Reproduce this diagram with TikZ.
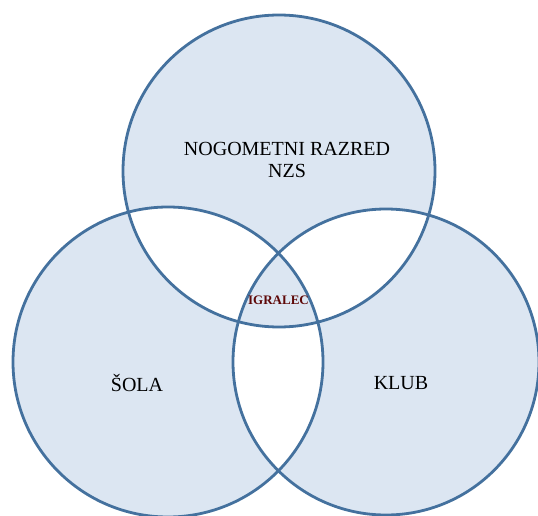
\documentclass[tikz,border=0pt]{standalone}
\usepackage{fontspec}
\setmainfont{Liberation Serif}
\definecolor{vennfill}{HTML}{DCE6F2}
\definecolor{vennline}{HTML}{44719E}
\definecolor{igred}{HTML}{5E0808}
\tikzset{
  vennstroke/.style={draw=vennline, line width=2.8pt},
  biglabel/.style={font=\fontsize{20}{22}\selectfont, text=black, align=center, inner sep=0pt},
  centerlabel/.style={font=\fontsize{13}{15}\selectfont\bfseries, text=igred, inner sep=0pt}
}
\begin{document}
\begin{tikzpicture}[x=1pt,y=-1pt]
  \useasboundingbox (0,0) rectangle (538,516);
  \clip (0,0) rectangle (538,516);
  \coordinate (ctop) at (279,171);
  \coordinate (cleft) at (168,362);
  \coordinate (cright) at (386,362);
  \fill[vennfill, even odd rule]
    (ctop) circle[radius=156pt]
    (cleft) circle[radius=155pt]
    (cright) circle[radius=153pt];
  \draw[vennstroke] (ctop) circle[radius=156pt];
  \draw[vennstroke] (cleft) circle[radius=155pt];
  \draw[vennstroke] (cright) circle[radius=153pt];
  \node[biglabel] (nzs) at (287,160) {NOGOMETNI RAZRED\\NZS};
  \node[biglabel] (sola) at (137,383) {ŠOLA};
  \node[biglabel] (klub) at (401,383) {KLUB};
  \node[centerlabel] (igralec) at (278.5,300) {IGRALEC};
\end{tikzpicture}
\end{document}
